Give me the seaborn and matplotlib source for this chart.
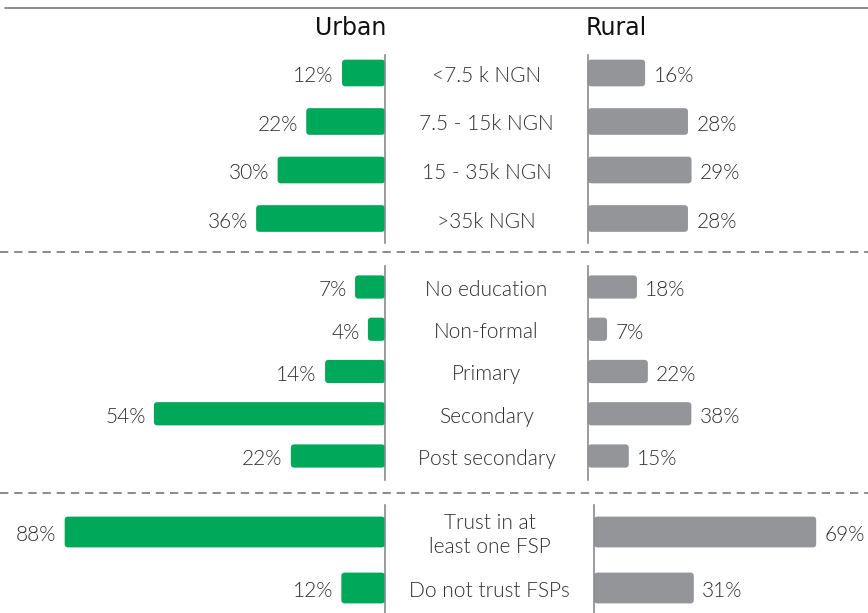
import pandas as pd
import seaborn as sns
import matplotlib.pyplot as plt
from matplotlib.patches import FancyBboxPatch
from matplotlib.transforms import blended_transform_factory, offset_copy

# data
income_cats = ["<7.5 k NGN", "7.5 - 15k NGN", "15 - 35k NGN", ">35k NGN"]
income_urban = [12, 22, 30, 36]
income_rural = [16, 28, 29, 28]

edu_cats = ["No education", "Non-formal", "Primary", "Secondary", "Post secondary"]
edu_urban = [7, 4, 14, 54, 22]
edu_rural = [18, 7, 22, 38, 15]

trust_cats = ["Trust in at\nleast one FSP", "Do not trust FSPs"]
trust_urban = [88, 12]
trust_rural = [69, 31]

GREEN = "#00A85A"
GREY = "#939598"
TXT = "#2e2e2e"
W, H = 868, 613

sns.set_theme(style="white")
plt.rcParams["font.family"] = ["Lato", "DejaVu Sans"]

fig = plt.figure(figsize=(W / 100, H / 100), dpi=100)

# pixel layout of each block: (cats, urban, rural, top, bottom, urban spine x,
#   urban px per %, rural spine x, rural px per %, first row y, row step)
blocks = [
    (income_cats, income_urban, income_rural, 55, 243, 385, 3.58, 588, 3.57, 73, 48.5),
    (edu_cats, edu_urban, edu_rural, 266, 480, 385, 4.28, 588, 2.72, 287, 42.25),
    (trust_cats, trust_urban, trust_rural, 505, 613, 385, 3.64, 594, 3.22, 532, 56),
]


def add_axes_px(x0, x1, y0, y1):
    return fig.add_axes([x0 / W, 1 - y1 / H, (x1 - x0) / W, (y1 - y0) / H])


def round_bars(ax, pxu, pyu):
    r = 3.5 / pxu
    for p in list(ax.patches):
        x, y, w, h = p.get_x(), p.get_y(), p.get_width(), p.get_height()
        fc = p.get_facecolor()
        p.remove()
        ax.add_patch(FancyBboxPatch((x, y), w, h,
                                    boxstyle=f"round,pad=0,rounding_size={r}",
                                    mutation_aspect=pxu / pyu,
                                    facecolor=fc, edgecolor="none"))


for cats, urb, rur, top, bot, ux, upx, rx, rpx, row0, step in blocks:
    df = pd.DataFrame({"cat": cats, "urban": urb, "rural": rur})
    ylo = (bot - row0) / step
    yhi = -(row0 - top) / step

    ax_u = add_axes_px(0, ux, top, bot)
    sns.barplot(data=df, x="urban", y="cat", orient="h", color=GREEN,
                width=0.55, saturation=1, ax=ax_u)
    ax_u.set_xlim(ux / upx, 0)
    ax_u.set_ylim(ylo, yhi)
    round_bars(ax_u, upx, step)

    ax_r = add_axes_px(rx, W, top, bot)
    sns.barplot(data=df, x="rural", y="cat", orient="h", color=GREY,
                width=0.55, saturation=1, ax=ax_r)
    ax_r.set_xlim(0, (W - rx) / rpx)
    ax_r.set_ylim(ylo, yhi)
    round_bars(ax_r, rpx, step)

    for ax, side in [(ax_u, "right"), (ax_r, "left")]:
        ax.set_xlabel("")
        ax.set_ylabel("")
        ax.set_xticks([])
        ax.set_yticks([])
        ax.patch.set_alpha(0)
        for s in ax.spines.values():
            s.set_visible(False)
        ax.spines[side].set_visible(True)
        ax.spines[side].set_color("#8a8a8a")
        ax.spines[side].set_linewidth(1.2)

    # value labels, nudged down a little like the reference
    for i, v in enumerate(urb):
        ax_u.annotate(f"{v}%", (v, i), xytext=(-6, -2.5), textcoords="offset points",
                      ha="right", va="center", fontsize=15, fontweight=300, color=TXT)
    for i, v in enumerate(rur):
        ax_r.annotate(f"{v}%", (v, i), xytext=(6, -2.5), textcoords="offset points",
                      ha="left", va="center", fontsize=15, fontweight=300, color=TXT)

    tr = blended_transform_factory(fig.transFigure, ax_u.transData)
    tr = offset_copy(tr, fig=fig, y=-3, units="dots")
    cx = (ux + rx) / 2 / W
    for i, c in enumerate(cats):
        ax_u.text(cx, i, c, transform=tr, ha="center", va="center",
                  fontsize=15, fontweight=300, color=TXT, linespacing=1.2,
                  clip_on=False)

# headers
fig.text(386 / W, 1 - 28 / H, "Urban", ha="right", va="center", fontsize=17,
         color="#111111", family=["Liberation Sans Narrow", "DejaVu Sans"])
fig.text(586 / W, 1 - 28 / H, "Rural", ha="left", va="center", fontsize=17,
         color="#111111", family=["Liberation Sans Narrow", "DejaVu Sans"])

# separator lines
fig.add_artist(plt.Line2D([5 / W, 1], [1 - 8 / H] * 2, color="#777777", lw=1.2))
for yy in [252, 493]:
    fig.add_artist(plt.Line2D([0, 1], [1 - yy / H] * 2, color="#777777", lw=1.2,
                              dashes=(5, 3.5)))

fig.savefig("out.png", dpi=100)
